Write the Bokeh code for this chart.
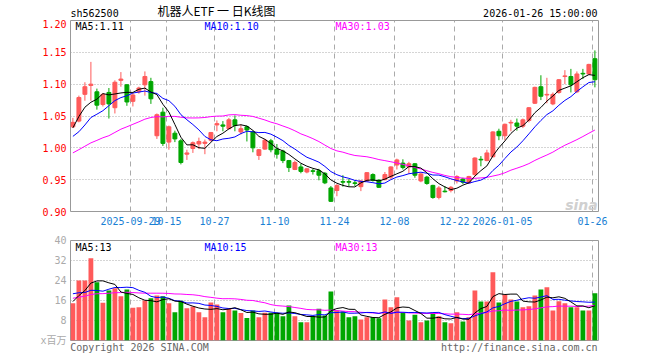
import numpy as np
import pandas as pd
from bokeh.plotting import figure
from bokeh.models import Range1d, FixedTicker, Label
from bokeh.layouts import column
from bokeh.embed import file_html
from bokeh.resources import INLINE

# ---------------- data ----------------
symbol = "sh562500"
chart_title = "机器人ETF 一 日K线图"
stamp = "2026-01-26 15:00:00"

holidays = ["2025-10-01", "2025-10-02", "2025-10-03", "2025-10-06", "2025-10-07",
            "2025-10-08", "2026-01-01", "2026-01-02"]
dates = [d.strftime("%Y-%m-%d") for d in pd.bdate_range("2025-09-15", "2026-01-26")
         if d.strftime("%Y-%m-%d") not in holidays]

open_ = [1.033, 1.042, 1.084, 1.098, 1.088, 1.068, 1.087, 1.063, 1.106, 1.099,
         1.073, 1.088, 1.099, 1.104, 1.019, 1.056, 1.009, 1.023, 1.011, 0.990,
         0.999, 1.006, 1.007, 1.012, 1.036, 1.036, 1.030, 1.044, 1.025, 1.033,
         1.025, 0.988, 0.998, 1.011, 0.998, 0.995, 0.980, 0.966, 0.970, 0.962,
         0.964, 0.964, 0.960, 0.937, 0.933, 0.947, 0.947, 0.945, 0.939, 0.948,
         0.958, 0.949, 0.950, 0.954, 0.973, 0.976, 0.970, 0.975, 0.948, 0.954,
         0.941, 0.922, 0.932, 0.933, 0.948, 0.951, 0.945, 0.958, 0.982, 0.980,
         0.986, 1.026, 1.019, 1.039, 1.039, 1.034, 1.043, 1.070, 1.096, 1.083,
         1.069, 1.087, 1.112, 1.112, 1.088, 1.117, 1.116, 1.140]
high = [1.047, 1.082, 1.103, 1.135, 1.093, 1.086, 1.094, 1.106, 1.119, 1.100,
        1.087, 1.096, 1.120, 1.110, 1.054, 1.063, 1.035, 1.027, 1.014, 0.997,
        1.010, 1.016, 1.013, 1.025, 1.043, 1.042, 1.047, 1.051, 1.037, 1.035,
        1.027, 0.998, 1.014, 1.014, 1.006, 0.997, 0.981, 0.980, 0.975, 0.968,
        0.967, 0.967, 0.962, 0.940, 0.943, 0.957, 0.951, 0.949, 0.949, 0.962,
        0.960, 0.951, 0.962, 0.971, 0.983, 0.982, 0.978, 0.976, 0.961, 0.956,
        0.942, 0.940, 0.940, 0.940, 0.957, 0.953, 0.956, 0.985, 0.987, 0.997,
        1.026, 1.030, 1.038, 1.044, 1.046, 1.046, 1.064, 1.096, 1.114, 1.110,
        1.087, 1.108, 1.122, 1.124, 1.120, 1.124, 1.132, 1.153]
low = [1.031, 1.040, 1.074, 1.074, 1.060, 1.065, 1.046, 1.054, 1.096, 1.066,
       1.065, 1.085, 1.082, 1.069, 1.014, 1.003, 0.997, 1.009, 0.974, 0.981,
       0.992, 0.998, 0.990, 1.010, 1.026, 1.026, 1.029, 1.026, 1.021, 1.010,
       0.993, 0.981, 0.997, 0.993, 0.983, 0.976, 0.962, 0.965, 0.960, 0.960,
       0.958, 0.949, 0.943, 0.915, 0.924, 0.939, 0.939, 0.940, 0.932, 0.947,
       0.947, 0.937, 0.949, 0.951, 0.966, 0.966, 0.959, 0.953, 0.946, 0.942,
       0.920, 0.919, 0.930, 0.930, 0.944, 0.943, 0.944, 0.956, 0.971, 0.979,
       0.985, 1.012, 1.012, 1.026, 1.027, 1.031, 1.040, 1.069, 1.075, 1.070,
       1.067, 1.085, 1.100, 1.087, 1.086, 1.108, 1.115, 1.095]
close = [1.040, 1.079, 1.096, 1.100, 1.067, 1.084, 1.069, 1.103, 1.108, 1.072,
         1.083, 1.094, 1.112, 1.077, 1.052, 1.007, 1.033, 1.014, 0.977, 0.992,
         1.008, 1.010, 1.009, 1.024, 1.038, 1.034, 1.044, 1.035, 1.030, 1.028,
         1.000, 0.997, 1.012, 0.997, 0.990, 0.980, 0.969, 0.977, 0.963, 0.967,
         0.963, 0.957, 0.945, 0.916, 0.941, 0.946, 0.946, 0.944, 0.948, 0.961,
         0.949, 0.938, 0.958, 0.970, 0.981, 0.969, 0.975, 0.957, 0.959, 0.944,
         0.922, 0.937, 0.931, 0.938, 0.955, 0.946, 0.955, 0.984, 0.981, 0.992,
         1.025, 1.019, 1.037, 1.040, 1.034, 1.044, 1.063, 1.095, 1.081, 1.084,
         1.084, 1.107, 1.113, 1.099, 1.116, 1.116, 1.131, 1.107]
volume = [14.9, 24.0, 24.0, 32.9, 23.3, 15.1, 20.0, 20.9, 17.7, 20.4,
          13.1, 13.3, 16.0, 16.9, 18.0, 17.7, 14.9, 11.3, 15.9, 12.9,
          13.6, 11.3, 9.3, 15.2, 14.4, 11.3, 12.7, 12.0, 11.0, 9.0,
          12.0, 9.3, 11.1, 11.1, 11.1, 9.7, 14.0, 9.7, 7.3, 7.3,
          9.7, 12.7, 10.0, 19.6, 12.0, 11.6, 9.3, 9.7, 8.4, 9.3,
          9.3, 8.9, 16.4, 13.3, 17.3, 11.1, 8.0, 10.3, 7.3, 8.0,
          11.1, 9.7, 7.3, 6.9, 11.3, 7.6, 9.3, 20.0, 15.6, 15.6,
          27.3, 15.2, 18.3, 16.4, 15.6, 13.3, 13.7, 18.0, 20.4, 21.3,
          12.0, 15.7, 14.9, 13.3, 13.3, 12.0, 12.0, 18.9]
# sessions before the visible window (needed by the moving averages)
prior_close = [0.925, 0.935, 0.942, 0.950, 0.960, 0.973, 0.948, 0.955, 0.960, 0.965,
               0.978, 0.986, 0.998, 1.011, 1.020, 1.008, 1.015, 1.018, 1.022, 1.012,
               1.006, 0.990, 0.983, 1.015, 1.029, 0.990, 1.023, 1.061, 1.043]
prior_volume = [11.0, 12.0, 13.0, 14.0, 14.0, 15.0, 15.0, 16.0, 16.0, 17.0,
                18.0, 19.0, 17.0, 18.0, 18.0, 18.0, 17.0, 17.0, 18.0, 17.0,
                20.0, 23.0, 24.0, 24.0, 18.1, 12.0, 14.0, 18.0, 19.0]

tick_dates = ["2025-09-29", "2025-10-15", "2025-10-27", "2025-11-10", "2025-11-24",
              "2025-12-08", "2025-12-22", "2026-01-05", "2026-01-26"]
tick_labels = ["2025-09-29", "10-15", "10-27", "11-10", "11-24",
               "12-08", "12-22", "2026-01-05", "01-26"]
price_ticks = [0.90, 0.95, 1.00, 1.05, 1.10, 1.15, 1.20]
volume_ticks = [0, 8, 16, 24, 32, 40]
volume_unit = "x百万"
price_legend = ["MA5:1.11", "MA10:1.10", "MA30:1.03"]
volume_legend = ["MA5:13", "MA10:15", "MA30:13"]
copyright_text = "Copyright 2026 SINA.COM"
site_text = "http://finance.sina.com.cn"
watermark = "sina"

# ---------------- derived ----------------
n = len(dates)
o = np.array(open_); h = np.array(high); l = np.array(low); c = np.array(close)
v = np.array(volume)
xc = np.arange(n) + 0.4
RED, GREEN = "#ff5a5a", "#00a600"
colors = np.where(c >= o, RED, GREEN).tolist()


def ma(prior, series, k):
    s = pd.Series(list(prior) + list(series))
    return s.rolling(k).mean().values[len(prior):]


pma = {k: ma(prior_close, close, k) for k in (5, 10, 30)}
vma = {k: ma(prior_volume, volume, k) for k in (5, 10, 30)}
MA_COLORS = {5: "#000000", 10: "#0000ff", 30: "#ff00ff"}

xticks = [dates.index(d) for d in tick_dates]

MONO = "DejaVu Sans Mono"
GRID = "#aaaaaa"
W = 660
BL, BR = 70, 62


def style(p, yticks, ycolor):
    p.outline_line_color = "#999999"
    p.outline_line_width = 1
    p.background_fill_color = "white"
    p.border_fill_color = "white"
    for ax in (p.xaxis[0], p.yaxis[0]):
        ax.axis_line_color = None
        ax.major_tick_line_color = None
        ax.minor_tick_line_color = None
        ax.major_tick_in = 0
        ax.major_tick_out = 0
        ax.minor_tick_in = 0
        ax.minor_tick_out = 0
        ax.major_label_text_font = MONO
        ax.major_label_text_font_size = "10px"
        ax.major_label_text_font_style = "normal"
    p.xaxis.ticker = FixedTicker(ticks=xticks)
    p.yaxis.ticker = FixedTicker(ticks=yticks)
    p.yaxis.major_label_text_color = ycolor
    p.yaxis.major_label_standoff = 4
    p.xgrid.ticker = FixedTicker(ticks=xticks)
    p.xgrid.grid_line_color = GRID
    p.xgrid.grid_line_dash = "5 4"
    p.ygrid.grid_line_color = GRID
    p.ygrid.grid_line_dash = "1 2"


def label(p, x, y, text, color="#000000", align="left", baseline="middle",
          font=MONO, size="10px", style_="normal"):
    p.add_layout(Label(x=x, y=y, x_units="screen", y_units="screen", text=text,
                       text_color=color, text_align=align, text_baseline=baseline,
                       text_font=font, text_font_size=size, text_font_style=style_))


# ---------------- header strip (its frame is aligned with the panels below) ----------------
top = figure(width=W, height=19, x_range=Range1d(0, 1), y_range=Range1d(0, 1),
             x_axis_type=None, y_axis_type=None, output_backend="svg",
             toolbar_location=None, min_border=0, min_border_left=BL,
             min_border_right=BR, min_border_top=0, min_border_bottom=0)
top.outline_line_color = None
top.grid.visible = False
label(top, 0, 5.7, symbol)
label(top, 146, 8.8, chart_title, align="center", font="Noto Sans CJK SC", size="12px")
label(top, 527, 5.7, stamp, align="right")

# ---------------- price panel ----------------
p1 = figure(width=W, height=213, x_range=Range1d(0, n), y_range=Range1d(0.90, 1.20),
            output_backend="svg", toolbar_location=None,
            min_border_left=BL, min_border_right=BR, min_border_top=1, min_border_bottom=21)
style(p1, price_ticks, "#ff0000")
p1.yaxis.major_label_overrides = {t: f"{t:.2f}" for t in price_ticks}
p1.xaxis.major_label_overrides = dict(zip(xticks, tick_labels))
p1.xaxis.major_label_text_color = "#1a7fd4"
p1.xaxis.major_label_standoff = 5

label(p1, 511, 7, watermark, color="#d0d0d0", align="center", baseline="alphabetic",
      font="DejaVu Sans", size="14px", style_="bold italic")

p1.segment(x0=xc, y0=h, x1=xc, y1=l, line_color=colors, line_width=1)
p1.vbar(x=xc, width=0.65, top=np.maximum(o, c), bottom=np.minimum(o, c),
        fill_color=colors, line_color=colors, line_width=1)
for k in (30, 10, 5):
    p1.line(xc, pma[k], line_color=MA_COLORS[k], line_width=1)

label(p1, 5, 185, price_legend[0], MA_COLORS[5])
label(p1, 134, 185, price_legend[1], MA_COLORS[10])
label(p1, 265, 185, price_legend[2], MA_COLORS[30])

# ---------------- volume panel ----------------
p2 = figure(width=W, height=128, x_range=p1.x_range, y_range=Range1d(0, 40),
            output_backend="svg", toolbar_location=None,
            min_border_left=BL, min_border_right=BR, min_border_top=8, min_border_bottom=20)
style(p2, volume_ticks, "#aaaaaa")
p2.yaxis.major_label_overrides = {0: volume_unit}
p2.yaxis.major_label_text_font = MONO + ", Noto Sans CJK SC"
# footer texts carried by the lower axis
p2.xaxis.ticker = FixedTicker(ticks=[11.5, 74.8])
p2.xaxis.major_label_overrides = {11.5: copyright_text, 74.8: site_text}
p2.xaxis.major_label_text_color = "#666666"
p2.xaxis.major_label_standoff = 1
p2.xgrid.ticker = FixedTicker(ticks=xticks)

p2.vbar(x=xc, width=0.8, top=v, bottom=0, fill_color=colors, line_color=None)
for k in (30, 10, 5):
    p2.line(xc, vma[k], line_color=MA_COLORS[k], line_width=1)

label(p2, 5, 93.5, volume_legend[0], MA_COLORS[5])
label(p2, 134, 93.5, volume_legend[1], MA_COLORS[10])
label(p2, 265, 93.5, volume_legend[2], MA_COLORS[30])

layout = column(top, p1, p2)
open("out.html", "w").write(file_html(layout, INLINE))
